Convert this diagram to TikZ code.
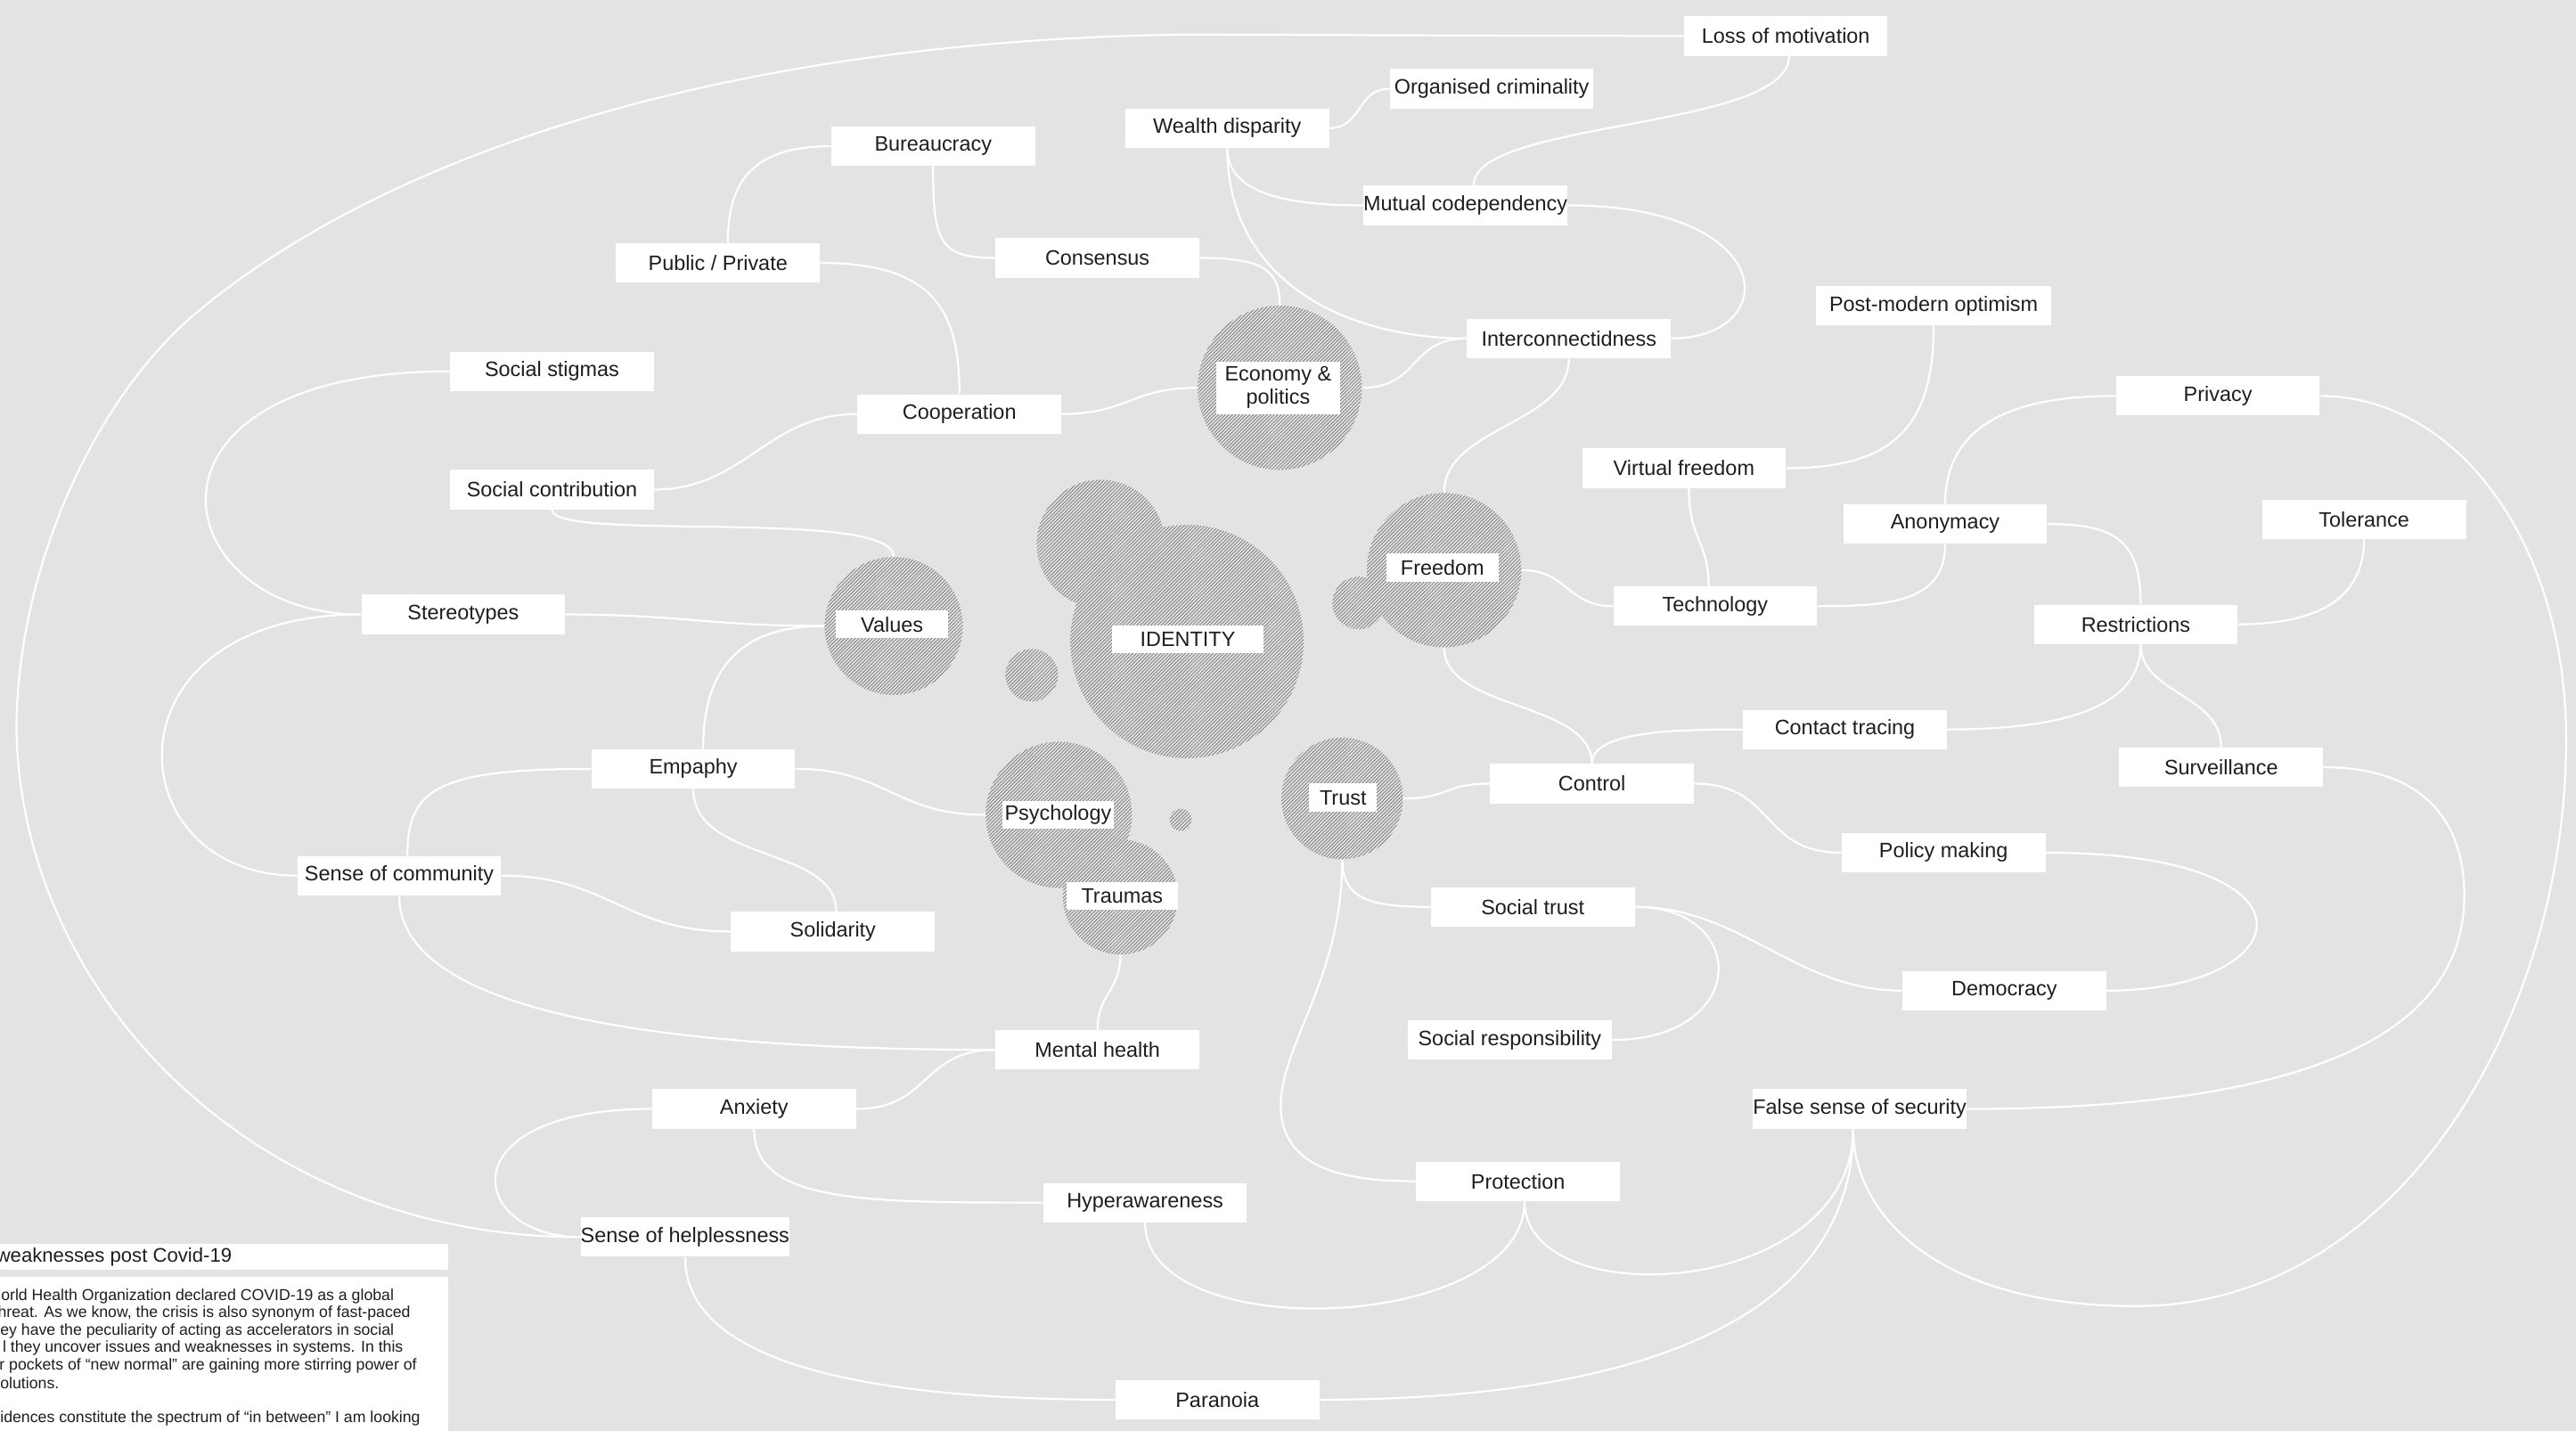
\documentclass[tikz,border=0pt]{standalone}
\usepackage{fontspec}
\setmainfont{Liberation Sans}
\usetikzlibrary{patterns.meta}
\definecolor{canvas}{RGB}{227,227,225}
\definecolor{hatch}{RGB}{128,128,128}
\definecolor{txt}{RGB}{30,30,30}
\newcommand\lblfont{\fontsize{12.7}{14}\selectfont}
\newcommand\notefont{\fontsize{9.6}{10.6}\selectfont}
\newcommand\headfont{\fontsize{12}{14}\selectfont}
\pgfdeclarelayer{bg}
\pgfdeclarelayer{edges}
\pgfsetlayers{bg,edges,main}
\tikzset{
  lbl/.style={fill=white, minimum width=124pt, minimum height=24pt, inner sep=0pt, font=\lblfont, text=txt},
  clbl/.style={fill=white, minimum height=17pt, inner sep=0pt, font=\lblfont, text=txt},
  hatchfill/.style={pattern={Lines[angle=45,distance=1.5pt,line width=0.48pt]}, pattern color=hatch},
  blob/.style={circle, inner sep=0pt, minimum size=#1},
  link/.style={draw=white, line width=1.2pt},
  note/.style={anchor=west, inner sep=0pt, font=\notefont, text=txt},
}
\begin{document}
\begin{tikzpicture}[x=1pt,y=-1pt]
\useasboundingbox (0,0) rectangle (1568,871);
\clip (0,0) rectangle (1568,871);
\begin{pgfonlayer}{bg}
  \fill[canvas] (0,0) rectangle (1568,871);
\end{pgfonlayer}

% ---- hatched clusters: one fill for all discs, so overlaps merge ----
\fill[hatchfill, nonzero rule]
  (670,331) circle[radius=39] (722.5,390.5) circle[radius=71] (628,411) circle[radius=16]
  (779,236) circle[radius=50]
  (827,367) circle[radius=16] (879,347) circle[radius=47]
  (544,381) circle[radius=42]
  (644.5,496) circle[radius=44.5] (682,546) circle[radius=35] (718.7,499) circle[radius=6.8]
  (817,486) circle[radius=37];

% disc outlines used as connector anchors
\node[blob=78pt]  (idtop)   at (670,331) {};
\node[blob=142pt] (idcirc)  at (722.5,390.5) {};
\node[blob=32pt]  (idsmall) at (628,411) {};
\node[blob=100pt] (econ)    at (779,236) {};
\node[blob=32pt]  (fsmall)  at (827,367) {};
\node[blob=94pt]  (fcirc)   at (879,347) {};
\node[blob=84pt]  (vcirc)   at (544,381) {};
\node[blob=89pt]  (pcirc)   at (644.5,496) {};
\node[blob=70pt]  (tcirc)   at (682,546) {};
\node[blob=13.6pt] (dot)    at (718.7,499) {};
\node[blob=74pt]  (trust)   at (817,486) {};

\node[clbl, minimum width=75pt, minimum height=32pt, align=center] (econl) at (778,236) {Economy \&\\politics};
\node[clbl, minimum width=68pt] (fl) at (878,345.5) {Freedom};
\node[clbl, minimum width=68pt] (vl) at (543,380) {Values};
\node[clbl, minimum width=92pt] (idl) at (723,389) {IDENTITY};
\node[clbl, minimum width=68pt] (pl) at (644,496) {Psychology};
\node[clbl, minimum width=68pt] (tl) at (683,545.5) {Traumas};
\node[clbl, minimum width=41pt] (trl) at (817.5,485.5) {Trust};

% ---- labels ----
\node[lbl] (lossmot)  at (1087,22)  {Loss of motivation};
\node[lbl] (orgcrim)  at (908,54)   {Organised criminality};
\node[lbl] (wealth)   at (747,78)   {Wealth disparity};
\node[lbl] (bureau)   at (568,89)   {Bureaucracy};
\node[lbl] (mutual)   at (892,125)  {Mutual codependency};
\node[lbl] (consensus) at (668,157) {Consensus};
\node[lbl] (pubpriv)  at (437,160)  {Public / Private};
\node[lbl] (intercon) at (955,206)  {Interconnectidness};
\node[lbl, minimum width=143pt] (postmod) at (1177,186) {Post-modern optimism};
\node[lbl] (stigmas)  at (336,226)  {Social stigmas};
\node[lbl] (coop)     at (584,252)  {Cooperation};
\node[lbl] (privacy)  at (1350,241) {Privacy};
\node[lbl] (vfree)    at (1025,285) {Virtual freedom};
\node[lbl] (socontrib) at (336,298) {Social contribution};
\node[lbl] (tolerance) at (1439,316) {Tolerance};
\node[lbl] (anonym)   at (1184,319) {Anonymacy};
\node[lbl] (tech)     at (1044,369) {Technology};
\node[lbl] (stereo)   at (282,374)  {Stereotypes};
\node[lbl] (restr)    at (1300,380) {Restrictions};
\node[lbl] (contact)  at (1123,444) {Contact tracing};
\node[lbl] (empaphy)  at (422,468)  {Empaphy};
\node[lbl] (control)  at (969,477)  {Control};
\node[lbl] (surv)     at (1352,467) {Surveillance};
\node[lbl] (policy)   at (1183,519) {Policy making};
\node[lbl] (senscomm) at (243,533)  {Sense of community};
\node[lbl] (socialtrust) at (933,552) {Social trust};
\node[lbl] (solid)    at (507,567)  {Solidarity};
\node[lbl] (democ)    at (1220,603) {Democracy};
\node[lbl] (socresp)  at (919,633)  {Social responsibility};
\node[lbl] (mental)   at (668,639)  {Mental health};
\node[lbl] (anxiety)  at (459,675)  {Anxiety};
\node[lbl] (falsesec) at (1132,675) {False sense of security};
\node[lbl] (protect)  at (924,719)  {Protection};
\node[lbl] (hyper)    at (697,732)  {Hyperawareness};
\node[lbl] (helpless) at (417,753)  {Sense of helplessness};
\node[lbl] (paranoia) at (741,852)  {Paranoia};

% ---- connectors ----
\begin{pgfonlayer}{edges}
\draw[link] (lossmot.west) -- (720,21) .. controls (450,25) and (240,90) .. (120,190)
  .. controls (60,240) and (12,340) .. (10,440) .. controls (10,600) and (150,753) .. (helpless.west);
\draw[link] ([xshift=2pt]lossmot.south) .. controls +(0,45) and +(0,-40) .. ([xshift=5pt]mutual.north);
\draw[link] (orgcrim.west) .. controls +(-20,0) and +(20,0) .. (wealth.east);
\draw[link] (wealth.south) .. controls +(0,28) and +(-45,0) .. (mutual.west);
\draw[link] (wealth.south) .. controls +(0,80) and +(-75,0) .. (intercon.west);
\draw[link] (consensus.east) .. controls +(38,0) and +(0,-22) .. (econ.north);
\draw[link] (mutual.east) .. controls +(130,0) and +(68,0) .. (intercon.east);
\draw[link] (intercon.west) .. controls +(-35,0) and +(35,0) .. (econ.east);
\draw[link] (intercon.south) .. controls +(0,40) and +(0,-40) .. (fcirc.north);
\draw[link] (bureau.west) .. controls +(-50,0) and +(0,-35) .. ([xshift=6pt]pubpriv.north);
\draw[link] (bureau.south) .. controls +(0,45) and +(-35,0) .. (consensus.west);
\draw[link] (pubpriv.east) .. controls +(70,0) and +(0,-50) .. (coop.north);
\draw[link] (coop.east) .. controls +(40,0) and +(-40,0) .. (econ.west);
\draw[link] (stigmas.west) .. controls (70,226) and (100,374) .. (stereo.west);
\draw[link] (socontrib.east) .. controls +(55,0) and +(-55,0) .. (coop.west);
\draw[link] (socontrib.south) .. controls +(0,20) and +(0,-30) .. (vcirc.north);
\draw[link] (stereo.east) .. controls +(70,0) and +(-70,0) .. (vcirc.west);
\draw[link] (stereo.west) .. controls (60,374) and (70,533) .. (senscomm.west);
\draw[link] (vcirc.west) .. controls +(-55,0) and +(0,-45) .. ([xshift=6pt]empaphy.north);
\draw[link] (empaphy.east) .. controls +(55,0) and +(-55,0) .. (pcirc.west);
\draw[link] (empaphy.west) .. controls +(-95,0) and +(0,-40) .. ([xshift=5pt]senscomm.north);
\draw[link] (empaphy.south) .. controls +(0,45) and +(0,-40) .. ([xshift=2pt]solid.north);
\draw[link] (senscomm.east) .. controls +(65,0) and +(-65,0) .. (solid.west);
\draw[link] (senscomm.south) .. controls +(0,60) and +(-250,0) .. (mental.west);
\draw[link] (tcirc.south) .. controls +(0,22) and +(0,-22) .. (mental.north);
\draw[link] (mental.west) .. controls +(-45,0) and +(45,0) .. (anxiety.east);
\draw[link] (anxiety.south) .. controls +(0,45) and +(-110,0) .. (hyper.west);
\draw[link] (anxiety.west) .. controls (270,675) and (285,753) .. (helpless.west);
\draw[link] (helpless.south) .. controls +(0,65) and +(-150,0) .. (paranoia.west);
\draw[link] (hyper.south) .. controls +(0,76) and +(0,80) .. ([xshift=4pt]protect.south);
\draw[link] ([xshift=4pt]protect.south) .. controls +(0,70) and +(0,103) .. ([xshift=-4pt]falsesec.south);
\draw[link] (paranoia.east) .. controls +(200,0) and +(0,113) .. ([xshift=-4pt]falsesec.south);
\draw[link] (privacy.east) .. controls (1495,241) and (1562,330) .. (1562,450)
  .. controls (1562,620) and (1460,795) .. (1300,795) .. controls (1180,795) and (1128,740) .. ([xshift=-4pt]falsesec.south);
\draw[link] (surv.east) .. controls (1480,467) and (1500,505) .. (1500,545)
  .. controls (1500,640) and (1380,675) .. (falsesec.east);
\draw[link] (trust.south) .. controls (817,600) and (775,640) .. (780,680) .. controls (785,712) and (820,719) .. (protect.west);
\draw[link] (trust.south) .. controls +(0,25) and +(-35,0) .. (socialtrust.west);
\draw[link] (trust.east) .. controls +(28,0) and +(-28,0) .. (control.west);
\draw[link] (control.north) .. controls +(0,-38) and +(0,38) .. (fcirc.south);
\draw[link] (control.north) .. controls +(0,-20) and +(-40,0) .. (contact.west);
\draw[link] (control.east) .. controls +(50,0) and +(-50,0) .. (policy.west);
\draw[link] (contact.east) .. controls +(90,0) and +(0,30) .. ([xshift=3pt]restr.south);
\draw[link] ([xshift=3pt]restr.south) .. controls +(0,30) and +(0,-32) .. (surv.north);
\draw[link] ([xshift=3pt]restr.north) .. controls +(0,-40) and +(40,0) .. (anonym.east);
\draw[link] (restr.east) .. controls +(60,0) and +(0,28) .. (tolerance.south);
\draw[link] (anonym.north) .. controls +(0,-55) and +(-50,0) .. (privacy.west);
\draw[link] (anonym.south) .. controls +(0,35) and +(45,0) .. (tech.east);
\draw[link] (tech.west) .. controls +(-28,0) and +(28,0) .. (fcirc.east);
\draw[link] ([xshift=3pt]vfree.south) .. controls +(0,32) and +(0,-28) .. ([xshift=-4pt]tech.north);
\draw[link] (vfree.east) .. controls +(65,0) and +(0,62) .. (postmod.south);
\draw[link] (policy.east) .. controls +(175,0) and +(118,0) .. (democ.east);
\draw[link] (socialtrust.east) .. controls +(65,0) and +(-65,0) .. (democ.west);
\draw[link] (socialtrust.east) .. controls +(70,0) and +(84,0) .. (socresp.east);
\end{pgfonlayer}

% ---- note panel ----
\fill[white] (-10,757) rectangle (273,773);
\fill[white] (-10,777) rectangle (273,880);
\node[anchor=west, inner sep=0pt, font=\headfont, text=txt] (head) at (-2.5,765) {weaknesses post Covid-19};
\node[note] (n1) at (0.5,789)   {orld Health Organization declared COVID-19 as a global};
\node[note] (n2) at (-1.5,799.6) {hreat. As we know, the crisis is also synonym of fast-paced};
\node[note] (n3) at (0,810.2)   {ey have the peculiarity of acting as accelerators in social};
\node[note] (n4) at (1.5,820.8) {l they uncover issues and weaknesses in systems. In this};
\node[note] (n5) at (-0.5,831.4) {r pockets of “new normal” are gaining more stirring power of};
\node[note] (n6) at (0,842)     {olutions.};
\node[note] (n7) at (0,863.2)   {idences constitute the spectrum of “in between” I am looking};
\end{tikzpicture}
\end{document}
